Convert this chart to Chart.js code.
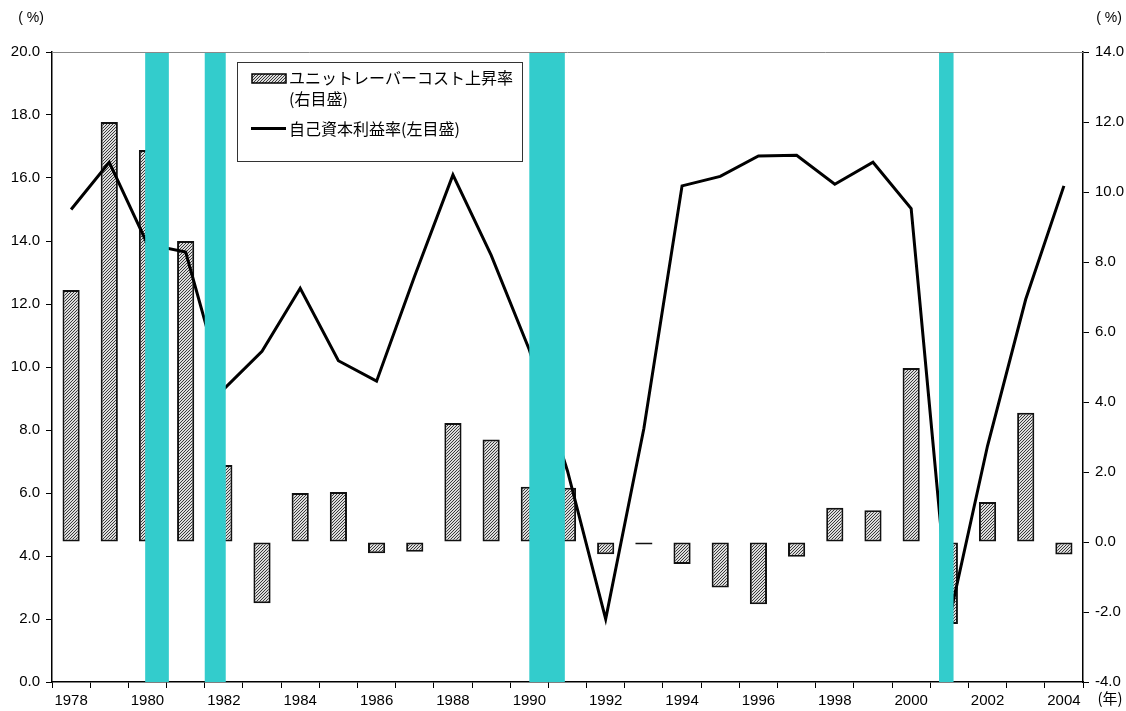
<!DOCTYPE html>
<html>
<head>
<meta charset="utf-8">
<script src="https://cdn.jsdelivr.net/npm/chart.js@4"></script>
<style>
  body { margin: 0; background: #fff; }
  #wrap { width: 1126px; height: 711px; position: relative; }
</style>
</head>
<body>
<div id="wrap"><canvas id="roe_chart"></canvas></div>
<script>
// data
const years = ['1978','1979','1980','1981','1982','1983','1984','1985','1986','1987','1988','1989','1990',
  '1991','1992','1993','1994','1995','1996','1997','1998','1999','2000','2001','2002','2003','2004'];
// unit labour cost growth, right scale (%)
const ulc = [7.2, 12.0, 11.2, 8.6, 2.2, -1.75, 1.4, 1.43, -0.32, -0.28, 3.4, 2.93, 1.58,
  1.55, -0.35, -0.07, -0.63, -1.3, -1.78, -0.42, 0.98, 0.91, 4.97, -2.34, 1.14, 3.69, -0.36];
// return on equity, left scale (%)
const roe = [15.0, 16.5, 13.9, 13.65, 9.3, 10.5, 12.5, 10.2, 9.55, 12.9, 16.1, 13.55, 10.55,
  6.7, 2.0, 8.05, 15.75, 16.05, 16.7, 16.72, 15.8, 16.5, 15.03, 2.0, 7.5, 12.15, 15.75];
// shaded periods (in year units, centre of 1978 = 1978)
const bandStart = [1979.94, 1981.5, 1990.0, 2000.73];
const bandEnd = [1980.56, 1982.05, 1990.93, 2001.11];
const leftTicks = {min: 0, max: 20, step: 2};
const rightTicks = {min: -4, max: 14, step: 2};
const ulcLabel = ['ユニットレーバーコスト上昇率', '(右目盛)'];
const roeLabel = '自己資本利益率(左目盛)';

const latin = '"Liberation Sans", Arial, sans-serif';
const cjk = '"Noto Sans CJK JP", "Liberation Sans", sans-serif';

// hatched fill for the bars (fine diagonal lines)
function makeHatch() {
  const c = document.createElement('canvas');
  c.width = 3; c.height = 3;
  const g = c.getContext('2d');
  g.fillStyle = '#dcdcdc';
  g.fillRect(0, 0, 3, 3);
  g.fillStyle = '#3a3a3a';
  g.fillRect(2, 0, 1, 1);
  g.fillRect(1, 1, 1, 1);
  g.fillRect(0, 2, 1, 1);
  return g.createPattern(c, 'repeat');
}
const hatch = makeHatch();

const extras = {
  id: 'extras',
  afterDatasetsDraw(chart) {
    const ctx = chart.ctx;
    const area = chart.chartArea;
    const x = chart.scales.x;
    const step = x.getPixelForValue(1) - x.getPixelForValue(0);
    const x0 = x.getPixelForValue(0);
    ctx.save();
    ctx.fillStyle = '#33cccc';
    for (let i = 0; i < bandStart.length; i++) {
      const a = x0 + (bandStart[i] - 1978) * step;
      const b = x0 + (bandEnd[i] - 1978) * step;
      ctx.fillRect(a, area.top, b - a, area.bottom - area.top);
    }
    ctx.restore();
  },
  afterDraw(chart) {
    const ctx = chart.ctx;
    const area = chart.chartArea;
    ctx.save();
    // top frame line
    ctx.strokeStyle = '#888';
    ctx.lineWidth = 1;
    ctx.beginPath();
    ctx.moveTo(area.left, area.top + 0.5);
    ctx.lineTo(area.right, area.top + 0.5);
    ctx.stroke();

    // unit labels
    ctx.fillStyle = '#000';
    ctx.font = '14px ' + latin;
    ctx.textBaseline = 'middle';
    ctx.textAlign = 'center';
    ctx.fillText('( %)', 31, 18);
    ctx.fillText('( %)', 1109, 18);
    ctx.font = '15px ' + cjk;
    ctx.fillText('(年)', 1110, 698);

    // legend
    const lx = 237, ly = 62, lw = 285, lh = 99;
    ctx.fillStyle = '#fff';
    ctx.fillRect(lx, ly, lw, lh);
    ctx.strokeStyle = '#333';
    ctx.lineWidth = 1;
    ctx.strokeRect(lx + 0.5, ly + 0.5, lw, lh);
    ctx.fillStyle = hatch;
    ctx.fillRect(252, 74, 34, 9);
    ctx.strokeStyle = '#000';
    ctx.lineWidth = 1.5;
    ctx.strokeRect(252, 74, 34, 9);
    ctx.lineWidth = 3;
    ctx.beginPath();
    ctx.moveTo(251, 128.5);
    ctx.lineTo(286, 128.5);
    ctx.stroke();
    ctx.fillStyle = '#000';
    ctx.font = '16px ' + cjk;
    ctx.textAlign = 'left';
    ctx.fillText(ulcLabel[0], 289, 78);
    ctx.fillText(ulcLabel[1], 289, 99);
    ctx.fillText(roeLabel, 289, 129);
    ctx.restore();
  }
};

const axisTick = {size: 15, family: latin};

new Chart(document.getElementById('roe_chart'), {
  data: {
    labels: years,
    datasets: [
      {
        type: 'line',
        label: roeLabel,
        data: roe,
        yAxisID: 'yL',
        borderColor: '#000',
        borderWidth: 3,
        pointRadius: 0,
        tension: 0,
        order: 0
      },
      {
        type: 'bar',
        label: ulcLabel.join(''),
        data: ulc,
        yAxisID: 'yR',
        backgroundColor: hatch,
        borderColor: '#111',
        borderWidth: 2,
        borderSkipped: false,
        barPercentage: 0.45,
        categoryPercentage: 1,
        order: 1
      }
    ]
  },
  options: {
    responsive: true,
    maintainAspectRatio: false,
    animation: false,
    layout: {padding: {top: 52, left: 0, right: 0, bottom: 0}},
    plugins: {
      legend: {display: false},
      tooltip: {enabled: false}
    },
    scales: {
      x: {
        type: 'category',
        offset: true,
        grid: {display: true, drawOnChartArea: false, offset: true, color: '#000', tickLength: 6},
        border: {display: true, color: '#000', width: 1.5},
        ticks: {
          autoSkip: false,
          maxRotation: 0,
          padding: 4,
          color: '#000',
          font: axisTick,
          callback: (v, i) => (i % 2 === 0 ? years[i] : '')
        },
        afterFit: s => { s.height = 29; }
      },
      yL: {
        position: 'left',
        min: leftTicks.min,
        max: leftTicks.max,
        grid: {drawOnChartArea: false, color: '#000', tickLength: 6},
        border: {display: true, color: '#000', width: 1.5},
        ticks: {
          stepSize: leftTicks.step,
          padding: 6,
          color: '#000',
          font: axisTick,
          callback: v => v.toFixed(1)
        },
        afterFit: s => { s.width = 52; }
      },
      yR: {
        position: 'right',
        min: rightTicks.min,
        max: rightTicks.max,
        grid: {drawOnChartArea: false, color: '#000', tickLength: 6},
        border: {display: true, color: '#000', width: 1.5},
        ticks: {
          stepSize: rightTicks.step,
          padding: 6,
          color: '#000',
          font: axisTick,
          callback: v => v.toFixed(1)
        },
        afterFit: s => { s.width = 43; }
      }
    }
  },
  plugins: [extras]
});
</script>
</body>
</html>
